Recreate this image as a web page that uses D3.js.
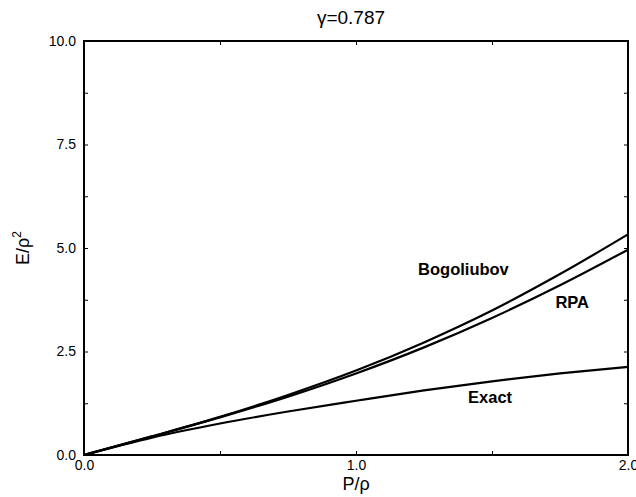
<!DOCTYPE html>
<html>
<head>
<meta charset="utf-8">
<script src="https://cdn.jsdelivr.net/npm/d3@7"></script>
<style>
  body { margin: 0; background: #fff; }
  svg { font-family: "Liberation Sans", Arial, sans-serif; }
</style>
</head>
<body>
<div id="chart"></div>
<script>
var w = 636, h = 497;
var margin = {top: 41, right: 8, bottom: 42, left: 84};

// P/rho sample points and the three curves
var pValues = [0, 0.25, 0.5, 0.75, 1.0, 1.25, 1.5, 1.75, 2.0];
var bogoliubov = [0, 0.45, 0.92, 1.45, 2.04, 2.72, 3.49, 4.37, 5.33];
var rpa = [0, 0.45, 0.91, 1.41, 1.97, 2.60, 3.31, 4.10, 4.96];
var exact = [0, 0.42, 0.76, 1.05, 1.31, 1.56, 1.78, 1.97, 2.13];

var xTicks = [0, 0.5, 1.0, 1.5, 2.0];
var xLabels = [0, 1.0, 2.0];
var yTicks = [0, 1.25, 2.5, 3.75, 5.0, 6.25, 7.5, 8.75, 10.0];
var yLabels = [0, 2.5, 5.0, 7.5, 10.0];

var curveLabels = [
  {name: "Bogoliubov", p: 1.395, e: 4.35},
  {name: "RPA", p: 1.795, e: 3.55},
  {name: "Exact", p: 1.493, e: 1.25}
];

var x = d3.scaleLinear().domain([0, 2]).range([margin.left, w - margin.right]);
var y = d3.scaleLinear().domain([0, 10]).range([h - margin.bottom, margin.top]);

var svg = d3.select("#chart").append("svg")
  .attr("width", w)
  .attr("height", h);

function fmt(v, labels) {
  return labels.indexOf(v) >= 0 ? d3.format(".1f")(v) : "";
}

// bottom axis with labels
svg.append("g")
  .attr("transform", "translate(0," + y(0) + ")")
  .call(d3.axisBottom(x).tickValues(xTicks).tickSize(-4).tickPadding(5)
    .tickFormat(function(d) { return fmt(d, xLabels); }))
  .call(function(g) {
    g.select(".domain").remove();
    g.selectAll("text").attr("font-size", 14).attr("fill", "#000");
  });

// top axis, ticks only
svg.append("g")
  .attr("transform", "translate(0," + y(10) + ")")
  .call(d3.axisTop(x).tickValues(xTicks).tickSize(-4).tickFormat(""))
  .call(function(g) { g.select(".domain").remove(); });

// left axis with labels
svg.append("g")
  .attr("transform", "translate(" + x(0) + ",0)")
  .call(d3.axisLeft(y).tickValues(yTicks).tickSize(-4).tickPadding(8)
    .tickFormat(function(d) { return fmt(d, yLabels); }))
  .call(function(g) {
    g.select(".domain").remove();
    g.selectAll("text").attr("font-size", 14).attr("fill", "#000");
  });

// right axis, ticks only
svg.append("g")
  .attr("transform", "translate(" + x(2) + ",0)")
  .call(d3.axisRight(y).tickValues(yTicks).tickSize(-4).tickFormat(""))
  .call(function(g) { g.select(".domain").remove(); });

// frame
svg.append("rect")
  .attr("x", x(0))
  .attr("y", y(10))
  .attr("width", x(2) - x(0))
  .attr("height", y(0) - y(10))
  .attr("fill", "none")
  .attr("stroke", "#000")
  .attr("stroke-width", 2);

var line = d3.line()
  .x(function(d, i) { return x(pValues[i]); })
  .y(function(d) { return y(d); })
  .curve(d3.curveMonotoneX);

[bogoliubov, rpa, exact].forEach(function(series) {
  svg.append("path")
    .datum(series)
    .attr("d", line)
    .attr("fill", "none")
    .attr("stroke", "#000")
    .attr("stroke-width", 2.2);
});

svg.selectAll(".curve-label")
  .data(curveLabels)
  .enter().append("text")
  .attr("class", "curve-label")
  .attr("x", function(d) { return x(d.p); })
  .attr("y", function(d) { return y(d.e); })
  .attr("text-anchor", "middle")
  .attr("font-size", 16.5)
  .attr("font-weight", "bold")
  .text(function(d) { return d.name; });

// title
svg.append("text")
  .attr("x", 351)
  .attr("y", 24)
  .attr("text-anchor", "middle")
  .attr("font-size", 19)
  .text("γ=0.787");

// x axis title
svg.append("text")
  .attr("x", x(1))
  .attr("y", 490)
  .attr("text-anchor", "middle")
  .attr("font-size", 18)
  .text("P/ρ");

// y axis title
var yt = svg.append("text")
  .attr("transform", "translate(29," + 248 + ") rotate(-90)")
  .attr("text-anchor", "middle")
  .attr("font-size", 18);
yt.append("tspan").text("E/ρ");
yt.append("tspan").attr("dy", -8).attr("font-size", 12).text("2");
</script>
</body>
</html>
